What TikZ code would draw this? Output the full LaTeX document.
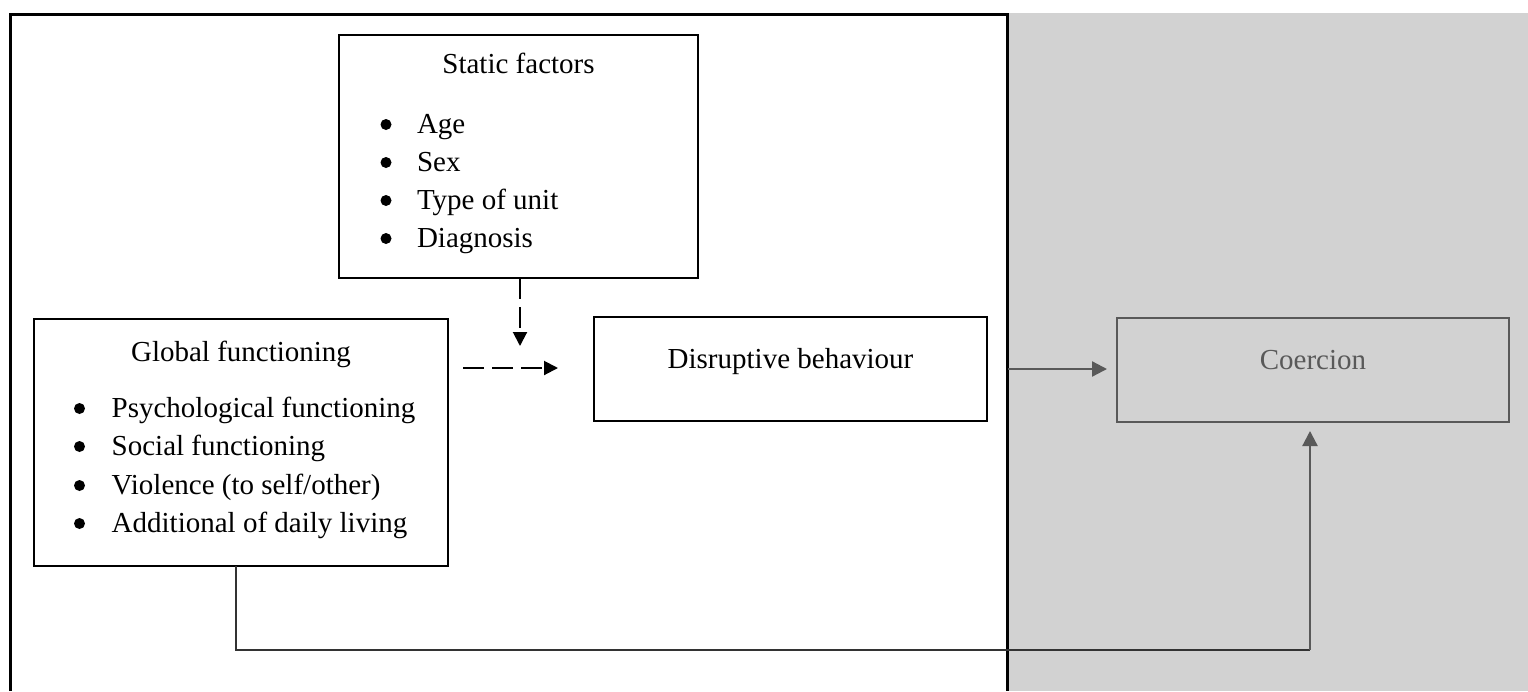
\documentclass[tikz,border=0pt]{standalone}
\usepackage{fontspec}
\setmainfont{Liberation Serif}
\usetikzlibrary{arrows.meta}
\definecolor{bgray}{RGB}{210,210,210}
\definecolor{dgray}{RGB}{89,89,89}
\begin{document}
\begin{tikzpicture}[x=1pt,y=-1pt,
  every node/.style={font=\fontsize{29}{38}\selectfont, inner sep=0pt, outer sep=0pt},
  box/.style={draw=black, line width=2pt, rectangle},
  gbox/.style={draw=dgray, line width=2pt, rectangle},
  ttl/.style={anchor=base},
  dot/.style={circle, fill=black, minimum size=11pt},
  itm/.style={anchor=base west},
  dasharrow/.style={line width=2pt, dash pattern=on 21pt off 8pt, -{Triangle[length=14pt,width=14pt]}},
  garrow/.style={draw=dgray, line width=2.3pt, -{Triangle[length=15pt,width=15pt]}},
  elbow/.style={draw=black!80, line width=1.5pt}
]
\useasboundingbox (0,0) rectangle (1528,691);
% gray region and outer frame
\fill[bgray] (1008,13) rectangle (1528,691);
\draw[line width=3pt] (10.5,691) -- (10.5,14) -- (1007,14) -- (1007,691);

% Static factors box
\node[box, minimum width=359pt, minimum height=243pt] (sf) at (518.5,156.5) {};
\node[ttl] (sft) at (518.5,73) {Static factors};
\node[dot] (sb1) at (386,124.5) {};
\node[dot] (sb2) at (386,162.5) {};
\node[dot] (sb3) at (386,200.5) {};
\node[dot] (sb4) at (386,238.5) {};
\node[itm] (si1) at (417,133) {Age};
\node[itm] (si2) at (417,171) {Sex};
\node[itm] (si3) at (417,209) {Type of unit};
\node[itm] (si4) at (417,247) {Diagnosis};

% Global functioning box
\node[box, minimum width=414pt, minimum height=247pt] (gf) at (241,442.5) {};
\node[ttl] (gft) at (241,361) {Global functioning};
\node[dot] (gb1) at (79.5,408.5) {};
\node[dot] (gb2) at (79.5,446.5) {};
\node[dot] (gb3) at (79.5,485.5) {};
\node[dot] (gb4) at (79.5,523.5) {};
\node[itm] (gi1) at (111.7,417) {Psychological functioning};
\node[itm] (gi2) at (111.7,455) {Social functioning};
\node[itm] (gi3) at (111.7,494) {Violence (to self/other)};
\node[itm] (gi4) at (111.7,532) {Additional of daily living};

% Disruptive behaviour
\node[box, minimum width=393pt, minimum height=104pt] (db) at (790.5,369) {};
\node[ttl] (dbt) at (790.5,368) {Disruptive behaviour};

% Coercion
\node[gbox, minimum width=392pt, minimum height=104pt] (co) at (1313,370) {};
\node[ttl, text=dgray] (cot) at (1313,369) {Coercion};

% connectors
\coordinate (dv) at (520,346);
\draw[dasharrow] ([xshift=1.5pt]sf.south) -- (dv);
\coordinate (dh1) at (463,368);
\coordinate (dh2) at (558,368);
\draw[dasharrow] (dh1) -- (dh2);
\coordinate (ga) at (1008,369);
\draw[garrow, shorten >=10pt] (ga) -- (co.west |- ga);
\coordinate (corner) at (1310,650);
\draw[elbow] ([xshift=-5pt]gf.south) |- (corner);
\draw[garrow, shorten >=9pt] (corner) -- ([xshift=-3pt]co.south);
\end{tikzpicture}
\end{document}
